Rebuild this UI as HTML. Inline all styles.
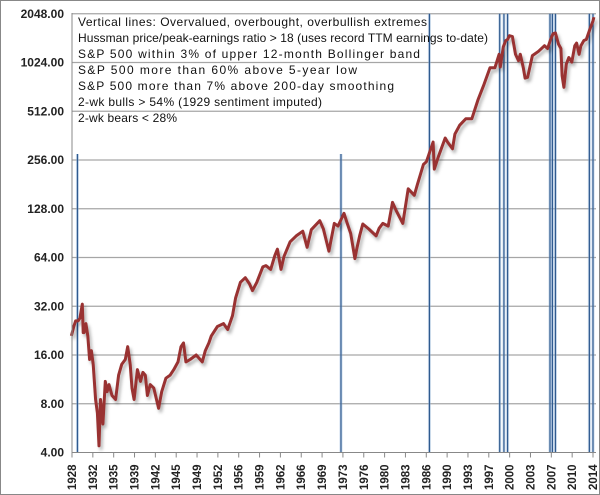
<!DOCTYPE html>
<html><head><meta charset="utf-8"><style>
body{margin:0;background:#fff}
svg{display:block;font-family:"Liberation Sans",Arial,sans-serif}
</style></head><body>
<svg id="chart" width="600" height="495" viewBox="0 0 600 495">
<defs><filter id="sh" x="-5%" y="-5%" width="110%" height="110%"><feDropShadow dx="2" dy="3" stdDeviation="1.5" flood-color="#000" flood-opacity="0.3"/></filter></defs>
<rect x="0.5" y="0.5" width="599" height="494" fill="#fff" stroke="#888"/>
<g id="grid"></g><g id="vlines"></g><g id="series"></g><g id="axes"></g>
<g font-size="12" fill="#111">
<text x="78" y="26" textLength="349">Vertical lines: Overvalued, overbought, overbullish extremes</text>
<text x="78" y="42" textLength="410">Hussman price/peak-earnings ratio &gt; 18 (uses record TTM earnings to-date)</text>
<text x="78" y="58" textLength="342">S&amp;P 500  within 3% of upper 12-month Bollinger band</text>
<text x="78" y="74" textLength="279">S&amp;P 500  more than 60% above 5-year low</text>
<text x="78" y="90" textLength="316">S&amp;P 500  more than 7% above 200-day smoothing</text>
<text x="78" y="106" textLength="244">2-wk bulls &gt; 54% (1929 sentiment imputed)</text>
<text x="78" y="122" textLength="99">2-wk bears &lt; 28%</text>
</g>
</svg>
<script>
const yTicks=[4,8,16,32,64,128,256,512,1024,2048];
const xTickYears=[1928,1932,1935,1939,1942,1945,1949,1952,1956,1959,1962,1966,1969,1973,1976,1980,1983,1986,1990,1993,1997,2000,2003,2007,2010,2014];
const dates=[1927.9,1928.3,1928.6,1929.0,1929.3,1929.7,1929.85,1930.0,1930.3,1930.6,1930.9,1931.2,1931.5,1931.9,1932.2,1932.45,1932.7,1932.9,1933.1,1933.5,1933.8,1934.1,1934.6,1935.2,1935.7,1936.2,1936.8,1937.2,1937.6,1937.9,1938.25,1938.8,1939.3,1939.7,1940.1,1940.45,1940.9,1941.5,1942.3,1942.8,1943.5,1944.2,1944.8,1945.5,1946.0,1946.4,1946.8,1947.5,1948.5,1949.5,1950.0,1950.6,1951.0,1952.0,1953.0,1953.7,1954.5,1955.0,1955.8,1956.6,1957.3,1957.8,1958.5,1959.5,1960.0,1960.8,1961.5,1961.9,1962.5,1963.0,1964.0,1965.0,1966.1,1966.8,1967.5,1968.9,1969.5,1970.4,1971.3,1971.9,1972.9,1973.4,1974.0,1974.7,1975.0,1975.5,1976.0,1977.0,1978.2,1978.7,1979.3,1980.2,1980.9,1981.5,1982.6,1983.5,1984.5,1985.0,1986.0,1986.5,1987.6,1987.8,1988.5,1989.6,1990.0,1990.8,1991.2,1992.0,1993.0,1994.0,1995.0,1996.0,1997.0,1997.8,1998.5,1998.7,1999.2,1999.6,1999.9,2000.2,2000.7,2001.2,2001.7,2002.0,2002.5,2002.8,2003.2,2004.0,2005.0,2006.0,2006.5,2007.0,2007.4,2007.8,2008.3,2008.7,2008.9,2009.2,2009.6,2010.0,2010.5,2011.0,2011.3,2011.7,2012.0,2012.5,2012.9,2013.5,2014.0,2014.15];
const prices=[21,24,26,26,27,33,22,22,25,21,15,17,14,8.5,7,4.4,8.5,7,6,11,9.5,10.5,9,8.5,12,14,15,18,14,10,8.5,13,11,12.5,12,9,10.5,10,7.5,9.5,11.5,12,13,14.5,18,19,14.5,15,16,14.5,17,19,21,24,25,23,28,36,45,48,44,40,45,56,57,54,66,72,54,65,80,87,93,74,95,108,96,70,104,100,120,105,90,63,72,88,103,96,87,97,104,100,140,125,104,170,155,180,240,250,330,225,270,350,330,300,370,420,460,460,600,750,950,950,1150,960,1280,1400,1420,1500,1480,1150,1050,1150,950,820,830,1130,1200,1300,1250,1420,1540,1560,1330,1250,850,720,1000,1100,1030,1300,1350,1150,1300,1400,1420,1650,1850,1950];
const vYears=[1928.9,1972.4,1987.0,1998.6,1999.3,1999.9,2006.9,2007.3,2007.8,2013.4,2014.0];
const vPrices=[256,256,2048,2048,2048,2048,2048,2048,2048,2048,2048];
const NS="http://www.w3.org/2000/svg";
const X0=72,X1=593,Y4=452.5,DBL=48.75;
function xs(yr){return X0+(yr-1928)*(X1-X0)/(2014-1928);}
function ys(v){return Y4-Math.log2(v/4)*DBL;}
function mk(tag,attrs,parent){const e=document.createElementNS(NS,tag);for(const k in attrs)e.setAttribute(k,attrs[k]);parent.appendChild(e);return e;}
const grid=document.getElementById('grid'),axes=document.getElementById('axes'),vl=document.getElementById('vlines'),ser=document.getElementById('series');
yTicks.forEach(v=>{
 const y=ys(v);
 if(v>4){const l=mk('line',{x1:X0,x2:596,y1:y,y2:y,stroke:'#a6a6a6','stroke-width':1.2},grid);
 
 }
 const t=mk('text',{x:64,y:y+4,'text-anchor':'end','font-size':12,'font-weight':'bold',fill:'#222'},axes);
 t.textContent=v.toFixed(2);
 
 
});
const ax=mk('line',{x1:X0,x2:X0,y1:13,y2:Y4,stroke:'#888'},axes);


const bx=mk('line',{x1:X0,x2:596,y1:Y4,y2:Y4,stroke:'#888'},axes);


xTickYears.forEach((yr,i)=>{
 const x=X0+i*(X1-X0)/25;
 const tk=mk('line',{x1:x,x2:x,y1:Y4,y2:Y4+5,stroke:'#888'},axes);
 
 
 const t=mk('text',{x:0,y:0,transform:`translate(${x+4},490) rotate(-90)`,'font-size':11.5,'font-weight':'bold',fill:'#222'},axes);
 t.textContent=yr;
 
 
});
vYears.forEach((yr,i)=>{
 const x=xs(yr),top=ys(vPrices[i])-(vPrices[i]==2048?0:6);
 const h=mk('line',{x1:x,x2:x,y1:top,y2:Y4,stroke:'#8fb0d6','stroke-width':3,opacity:0.45},vl);
 
 
 const l=mk('line',{x1:x,x2:x,y1:top,y2:Y4,stroke:'#2f5a8f','stroke-width':1.2},vl);
 
 
});
let d='';
dates.forEach((yr,i)=>{d+=(i?'L':'M')+xs(yr).toFixed(1)+','+ys(prices[i]).toFixed(1);});
const p=mk('path',{d:d,fill:'none',stroke:'#993330','stroke-width':3,'stroke-linejoin':'round',filter:'url(#sh)'},ser);


</script>
</body></html>
